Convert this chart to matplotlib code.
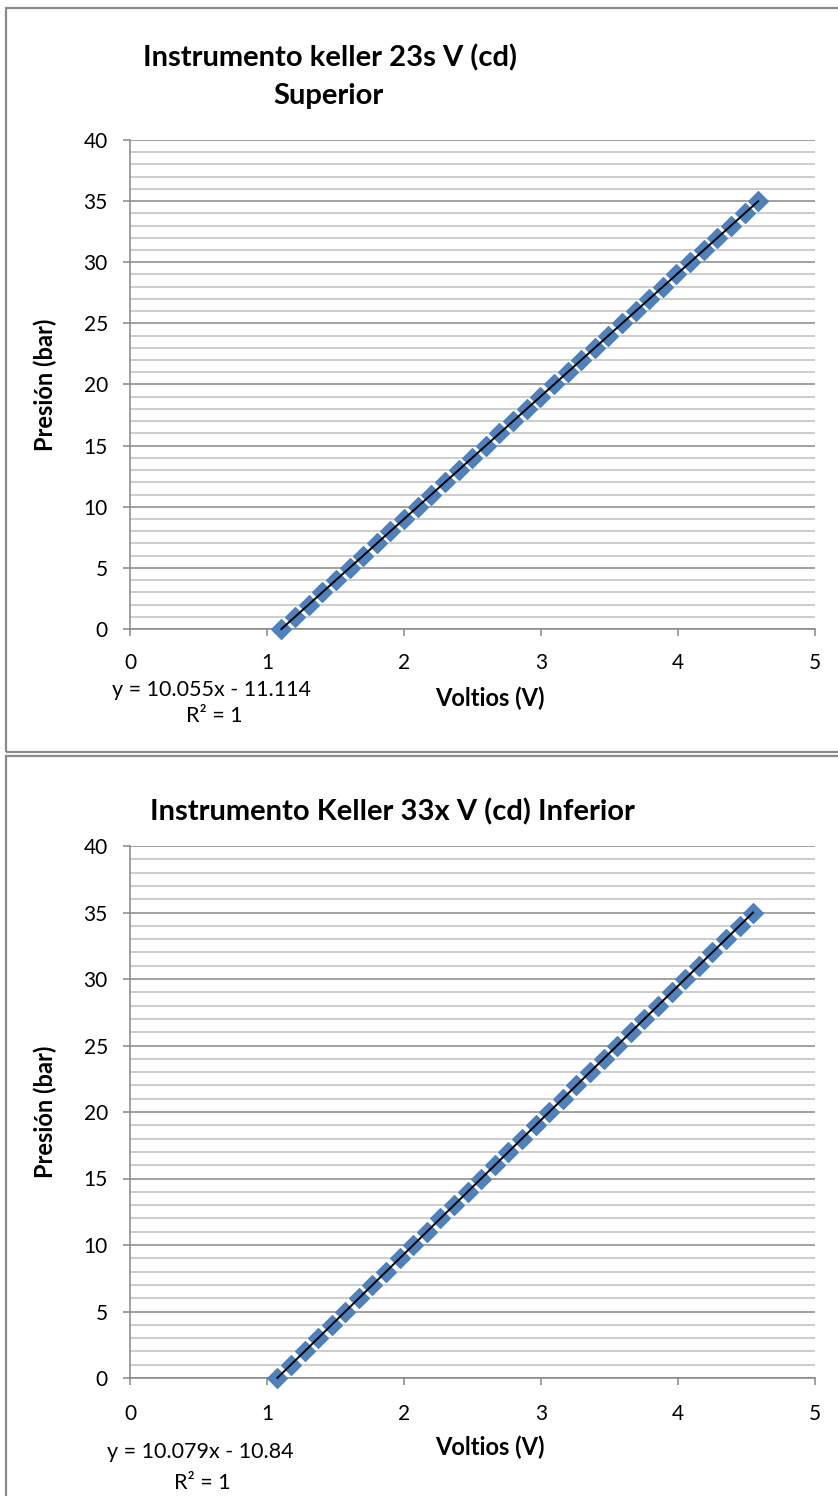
import numpy as np
import matplotlib
matplotlib.use("Agg")
import matplotlib.pyplot as plt
from matplotlib.patches import Rectangle
from matplotlib.ticker import MultipleLocator

plt.rcParams['font.family'] = ['Lato', 'DejaVu Sans']

# ---- data ----
pressure_sup = list(range(0, 36))
volt_sup = [1.105, 1.205, 1.304, 1.404, 1.503, 1.603, 1.702, 1.802, 1.901, 2.000,
            2.100, 2.199, 2.299, 2.398, 2.498, 2.597, 2.697, 2.796, 2.895, 2.995,
            3.094, 3.194, 3.293, 3.393, 3.492, 3.592, 3.691, 3.791, 3.890, 3.989,
            4.089, 4.188, 4.288, 4.387, 4.487, 4.586]
pressure_inf = list(range(0, 36))
volt_inf = [1.076, 1.175, 1.274, 1.373, 1.472, 1.572, 1.671, 1.770, 1.869, 1.968,
            2.068, 2.167, 2.266, 2.365, 2.465, 2.564, 2.663, 2.762, 2.861, 2.961,
            3.060, 3.159, 3.258, 3.358, 3.457, 3.556, 3.655, 3.754, 3.854, 3.953,
            4.052, 4.151, 4.250, 4.350, 4.449, 4.548]
titles_sup = ["Instrumento keller 23s V (cd)", "Superior"]
title_inf = "Instrumento Keller 33x V (cd) Inferior"
equations = ["y = 10.055x - 11.114", "y = 10.079x - 10.84"]
r2_text = "R² = 1"
xlabel = "Voltios (V)"
ylabel = "Presión (bar)"

W, H = 838, 1496
fig = plt.figure(figsize=(W / 100, H / 100), dpi=100)

def fx(px):
    return px / W

def fy(py):
    return 1 - py / H

# panel borders
border_col = '#8a8a8a'
fig.patches.append(Rectangle((fx(6), fy(752)), fx(900), fy(8) - fy(752), transform=fig.transFigure,
                             fill=False, edgecolor=border_col, linewidth=1.6))
fig.patches.append(Rectangle((fx(6), fy(1520)), fx(900), fy(756) - fy(1520), transform=fig.transFigure,
                             fill=False, edgecolor=border_col, linewidth=1.6))

panels = [
    dict(top=140, bottom=629, x=volt_sup, y=pressure_sup, xpad=12,
         eq=equations[0], eq_x=212, eq_y=690, r2_x=214, r2_y=716, xl_y=698),
    dict(top=846, bottom=1378, x=volt_inf, y=pressure_inf, xpad=14,
         eq=equations[1], eq_x=200, eq_y=1452, r2_x=202, r2_y=1483, xl_y=1447),
]

# titles
fig.text(fx(330), fy(58), titles_sup[0], ha='center', va='center', fontsize=21, fontweight='bold')
fig.text(fx(328), fy(96), titles_sup[1], ha='center', va='center', fontsize=21, fontweight='bold')
fig.text(fx(392), fy(812), title_inf, ha='center', va='center', fontsize=21, fontweight='bold')

left, right = 130, 815
for p in panels:
    ax = fig.add_axes([fx(left), fy(p['bottom']), fx(right) - fx(left), fy(p['top']) - fy(p['bottom'])])
    ax.set_xlim(0, 5)
    ax.set_ylim(0, 40)
    ax.yaxis.set_major_locator(MultipleLocator(5))
    ax.yaxis.set_minor_locator(MultipleLocator(1))
    ax.xaxis.set_major_locator(MultipleLocator(1))
    ax.grid(which='minor', axis='y', color='#c0c0c0', linewidth=1.1)
    ax.grid(which='major', axis='y', color='#878787', linewidth=1.1)
    ax.set_axisbelow(True)
    for s in ['top', 'right']:
        ax.spines[s].set_visible(False)
    for s in ['left', 'bottom']:
        ax.spines[s].set_color('#878787')
        ax.spines[s].set_linewidth(1.1)
    ax.tick_params(axis='both', which='major', direction='out', length=5, width=1.1,
                   color='#878787', labelsize=15, labelcolor='black')
    ax.tick_params(axis='y', which='minor', length=0)
    ax.tick_params(axis='x', pad=p['xpad'])
    ax.tick_params(axis='y', pad=11)
    ax.plot(p['x'], p['y'], linestyle='none', marker='D', markersize=9.8,
            markerfacecolor='#4f81bd', markeredgecolor='#4a7ebb', markeredgewidth=0.8, zorder=3,
            clip_on=False)
    coef = np.polyfit(p['x'], p['y'], 1)
    xs = np.array([min(p['x']), max(p['x'])])
    ax.plot(xs, np.polyval(coef, xs), color='black', linewidth=1.4, zorder=4, clip_on=False)

    fig.text(fx(p['eq_x']), fy(p['eq_y']), p['eq'], ha='center', va='center', fontsize=15.5)
    fig.text(fx(p['r2_x']), fy(p['r2_y']), r2_text, ha='center', va='center', fontsize=15.5)
    fig.text(fx(490), fy(p['xl_y']), xlabel, ha='center', va='center', fontsize=17, fontweight='bold')
    fig.text(fx(45), fy((p['top'] + p['bottom']) / 2), ylabel, ha='center', va='center',
             fontsize=17, fontweight='bold', rotation=90)

fig.savefig('out.png', dpi=100)
